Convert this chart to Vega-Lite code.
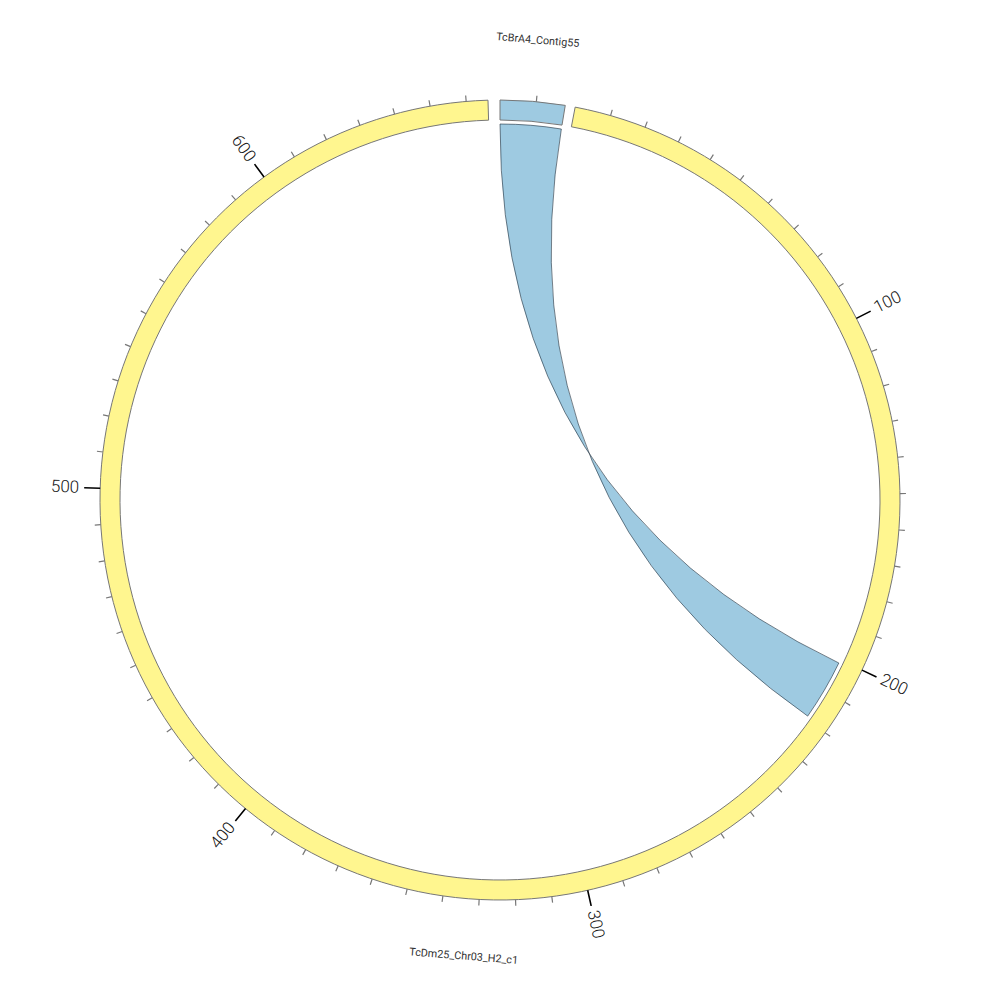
{
  "$schema": "https://vega.github.io/schema/vega-lite/v6.json",
  "width": 1000,
  "height": 1000,
  "autosize": {"type": "fit", "contains": "padding"},
  "padding": 0,
  "background": "white",
  "view": {"stroke": null},
  "datasets": {
    "karyotype": [
      {"chr": "TcBrA4_Contig55", "start": 0, "end": 18},
      {"chr": "TcDm25_Chr03_H2_c1", "start": 0, "end": 666}
    ],
    "links": [
      {"src": "TcBrA4_Contig55", "src_start": 0, "src_end": 18, "tgt": "TcDm25_Chr03_H2_c1", "tgt_start": 201, "tgt_end": 219}
    ],
    "contigTicks": [{"pos": 10}],
    "chrTicks": [
      {"pos": 10},{"pos": 20},{"pos": 30},{"pos": 40},{"pos": 50},{"pos": 60},{"pos": 70},{"pos": 80},{"pos": 90},{"pos": 100},
      {"pos": 110},{"pos": 120},{"pos": 130},{"pos": 140},{"pos": 150},{"pos": 160},{"pos": 170},{"pos": 180},{"pos": 190},{"pos": 200},
      {"pos": 210},{"pos": 220},{"pos": 230},{"pos": 240},{"pos": 250},{"pos": 260},{"pos": 270},{"pos": 280},{"pos": 290},{"pos": 300},
      {"pos": 310},{"pos": 320},{"pos": 330},{"pos": 340},{"pos": 350},{"pos": 360},{"pos": 370},{"pos": 380},{"pos": 390},{"pos": 400},
      {"pos": 410},{"pos": 420},{"pos": 430},{"pos": 440},{"pos": 450},{"pos": 460},{"pos": 470},{"pos": 480},{"pos": 490},{"pos": 500},
      {"pos": 510},{"pos": 520},{"pos": 530},{"pos": 540},{"pos": 550},{"pos": 560},{"pos": 570},{"pos": 580},{"pos": 590},{"pos": 600},
      {"pos": 610},{"pos": 620},{"pos": 630},{"pos": 640},{"pos": 650},{"pos": 660}
    ]
  },
  "layer": [
    {
      "data": {"name": "karyotype"},
      "transform": [{"filter": "datum.chr == 'TcBrA4_Contig55'"}],
      "mark": {"type": "arc", "radius": 400, "radius2": 380, "fill": "#9ecae1", "stroke": "#777777", "strokeWidth": 1},
      "encoding": {
        "theta": {"field": "start", "type": "quantitative", "scale": {"domain": [0, 18], "range": [0, 0.1639]}},
        "theta2": {"field": "end"}
      }
    },
    {
      "data": {"name": "karyotype"},
      "transform": [{"filter": "datum.chr == 'TcDm25_Chr03_H2_c1'"}],
      "mark": {"type": "arc", "radius": 400, "radius2": 380, "fill": "#fff68f", "stroke": "#777777", "strokeWidth": 1},
      "encoding": {
        "theta": {"field": "start", "type": "quantitative", "scale": {"domain": [0, 666], "range": [0.18902, 6.25316]}},
        "theta2": {"field": "end"}
      }
    },
    {
      "data": {"name": "contigTicks"},
      "mark": {"type": "arc", "radius": 406, "radius2": 400, "fill": null, "stroke": "#777777", "strokeWidth": 1.2},
      "encoding": {
        "theta": {"field": "pos", "type": "quantitative", "scale": {"domain": [0, 18], "range": [0, 0.1639]}},
        "theta2": {"field": "pos"}
      }
    },
    {
      "data": {"name": "chrTicks"},
      "transform": [{"filter": "datum.pos % 100 != 0"}],
      "mark": {"type": "arc", "radius": 406, "radius2": 400, "fill": null, "stroke": "#777777", "strokeWidth": 1.2},
      "encoding": {
        "theta": {"field": "pos", "type": "quantitative", "scale": {"domain": [0, 666], "range": [0.18902, 6.25316]}},
        "theta2": {"field": "pos"}
      }
    },
    {
      "data": {"name": "chrTicks"},
      "transform": [{"filter": "datum.pos % 100 == 0"}],
      "mark": {"type": "arc", "radius": 416, "radius2": 400, "fill": null, "stroke": "#000000", "strokeWidth": 1.6},
      "encoding": {
        "theta": {"field": "pos", "type": "quantitative", "scale": {"domain": [0, 666], "range": [0.18902, 6.25316]}},
        "theta2": {"field": "pos"}
      }
    },
    {
      "data": {"name": "chrTicks"},
      "transform": [{"filter": "datum.pos % 100 == 0 && datum.pos <= 300"}],
      "mark": {"type": "text", "radius": 421, "align": "left", "baseline": "middle", "font": "Roboto", "fontWeight": 300, "fontSize": 17, "color": "#111111"},
      "encoding": {
        "theta": {"field": "pos", "type": "quantitative", "scale": {"domain": [0, 666], "range": [0.18902, 6.25316]}},
        "angle": {"field": "pos", "type": "quantitative", "scale": {"domain": [0, 666], "range": [-79.17, 268.28]}, "legend": null},
        "text": {"field": "pos", "type": "quantitative"}
      }
    },
    {
      "data": {"name": "chrTicks"},
      "transform": [{"filter": "datum.pos % 100 == 0 && datum.pos > 300"}],
      "mark": {"type": "text", "radius": 421, "align": "right", "baseline": "middle", "font": "Roboto", "fontWeight": 300, "fontSize": 17, "color": "#111111"},
      "encoding": {
        "theta": {"field": "pos", "type": "quantitative", "scale": {"domain": [0, 666], "range": [0.18902, 6.25316]}},
        "angle": {"field": "pos", "type": "quantitative", "scale": {"domain": [0, 666], "range": [100.83, 448.28]}, "legend": null},
        "text": {"field": "pos", "type": "quantitative"}
      }
    },
    {
      "data": {"name": "karyotype"},
      "transform": [{"filter": "datum.chr == 'TcBrA4_Contig55'"}, {"calculate": "(datum.start + datum.end) / 2", "as": "mid"}],
      "mark": {"type": "text", "radius": 461, "align": "center", "baseline": "middle", "font": "Roboto", "fontSize": 10.8, "color": "#333333"},
      "encoding": {
        "theta": {"field": "mid", "type": "quantitative", "scale": {"domain": [0, 18], "range": [0, 0.1639]}},
        "angle": {"field": "mid", "type": "quantitative", "scale": {"domain": [0, 18], "range": [0, 9.39]}, "legend": null},
        "text": {"field": "chr", "type": "nominal"}
      }
    },
    {
      "data": {"name": "karyotype"},
      "transform": [{"filter": "datum.chr == 'TcDm25_Chr03_H2_c1'"}, {"calculate": "(datum.start + datum.end) / 2", "as": "mid"}],
      "mark": {"type": "text", "radius": 458, "align": "center", "baseline": "middle", "font": "Roboto", "fontSize": 10.8, "color": "#333333"},
      "encoding": {
        "theta": {"field": "mid", "type": "quantitative", "scale": {"domain": [0, 666], "range": [0.18902, 6.25316]}},
        "angle": {"field": "mid", "type": "quantitative", "scale": {"domain": [0, 666], "range": [-169.17, 178.28]}, "legend": null},
        "text": {"field": "chr", "type": "nominal"}
      }
    },
    {
      "data": {"name": "links"},
      "transform": [
        {"calculate": "datum.src_start * 0.0091056", "as": "a0"},
        {"calculate": "datum.src_end * 0.0091056", "as": "a1"},
        {"calculate": "0.18902 + datum.tgt_start * 0.0091053", "as": "b0"},
        {"calculate": "0.18902 + datum.tgt_end * 0.0091053", "as": "b1"},
        {"calculate": "'M' + round(37600*sin(datum.a0))/10000 + ',' + round(-37600*cos(datum.a0))/10000 + 'Q0,0,' + round(37600*sin(datum.b0))/10000 + ',' + round(-37600*cos(datum.b0))/10000 + 'A3.76,3.76,0,0,' + (datum.b1 > datum.b0 ? '1' : '0') + ',' + round(37600*sin(datum.b1))/10000 + ',' + round(-37600*cos(datum.b1))/10000 + 'Q0,0,' + round(37600*sin(datum.a1))/10000 + ',' + round(-37600*cos(datum.a1))/10000 + 'A3.76,3.76,0,0,' + (datum.a0 > datum.a1 ? '1' : '0') + ',' + round(37600*sin(datum.a0))/10000 + ',' + round(-37600*cos(datum.a0))/10000 + 'Z'", "as": "path"}
      ],
      "mark": {"type": "point", "filled": true, "fill": "#9ecae1", "stroke": "#1f2d3a", "strokeWidth": 0.6, "opacity": 1, "size": 40000},
      "encoding": {
        "shape": {"field": "path", "type": "nominal", "scale": null, "legend": null}
      }
    }
  ],
  "resolve": {"scale": {"theta": "independent", "angle": "independent"}}
}
